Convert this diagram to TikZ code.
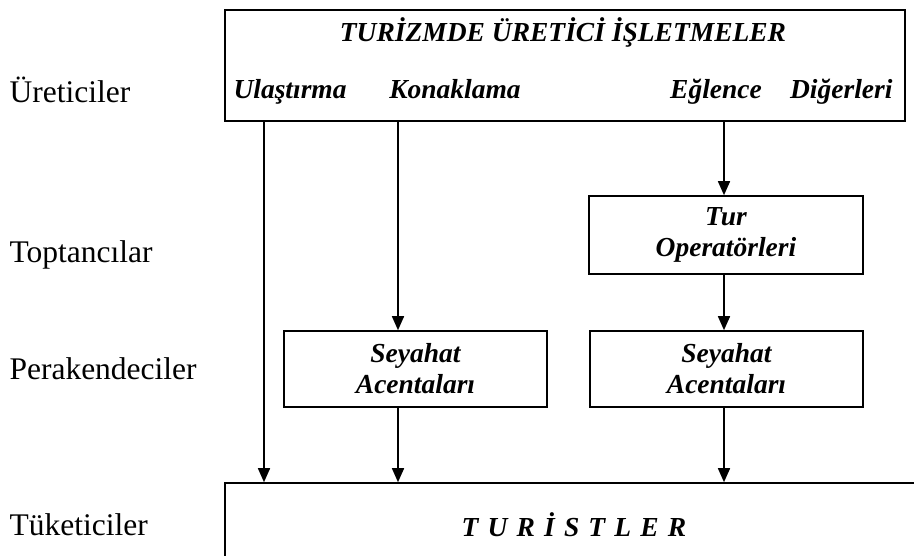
\documentclass[tikz,border=0pt]{standalone}
\usepackage{fontspec}
\setmainfont{Liberation Serif}
\usepackage{tikz}
\usetikzlibrary{arrows.meta}

\begin{document}
\begin{tikzpicture}[x=1pt,y=-1pt,
  kutu/.style={draw, line width=1.6pt, inner sep=0pt},
  etiket/.style={font=\fontsize{27.5}{31}\selectfont\bfseries\itshape, align=center},
  duzey/.style={font=\fontsize{31.5}{36}\selectfont, anchor=base west},
  ok/.style={line width=1.6pt, -{Triangle[width=12pt,length=14pt]}}]
\useasboundingbox (0,0) rectangle (914,556);
\clip (0,0) rectangle (914,556);

% duzeyler
\node[duzey] (ureticiler) at (6,103) {Üreticiler};
\node[duzey] (toptancilar) at (6,263) {Toptancılar};
\node[duzey] (perakendeciler) at (6,380) {Perakendeciler};
\node[duzey] (tuketiciler) at (6,535) {Tüketiciler};

% kutular
\node[kutu, minimum width=680pt, minimum height=111pt] (isletmeler) at (565,65.5) {};
\node[etiket, anchor=base] (baslik) at (563,42) {TURİZMDE ÜRETİCİ İŞLETMELER};
\node[etiket, anchor=base west] (ulastirma) at (230,99) {Ulaştırma};
\node[etiket, anchor=base] (konaklama) at (455,99) {Konaklama};
\node[etiket, anchor=base] (eglence) at (716,99) {Eğlence};
\node[etiket, anchor=base east] (digerleri) at (896,99) {Diğerleri};

\node[kutu, etiket, minimum width=274pt, minimum height=78pt] (turop) at (726,235) {Tur\\Operatörleri};
\node[kutu, etiket, minimum width=263pt, minimum height=76pt] (acenta1) at (415.5,369) {Seyahat\\Acentaları};
\node[kutu, etiket, minimum width=273pt, minimum height=76pt] (acenta2) at (726.5,369) {Seyahat\\Acentaları};
\node[kutu, minimum width=705pt, minimum height=100pt] (turistler) at (577.5,533) {};
\node[etiket, anchor=base] (turistyazi) at (574,536) {T\,\,U\,\,R\,\,İ\,\,S\,\,T\,\,L\,\,E\,\,R};

% oklar
\coordinate (x1) at (264,0);
\coordinate (x2) at (398,0);
\coordinate (x3) at (724,0);
\draw[ok] (isletmeler.south -| x1) -- (turistler.north -| x1);
\draw[ok] (isletmeler.south -| x2) -- (acenta1.north -| x2);
\draw[ok] (isletmeler.south -| x3) -- (turop.north -| x3);
\draw[ok] (turop.south -| x3) -- (acenta2.north -| x3);
\draw[ok] (acenta1.south -| x2) -- (turistler.north -| x2);
\draw[ok] (acenta2.south -| x3) -- (turistler.north -| x3);
\end{tikzpicture}
\end{document}
